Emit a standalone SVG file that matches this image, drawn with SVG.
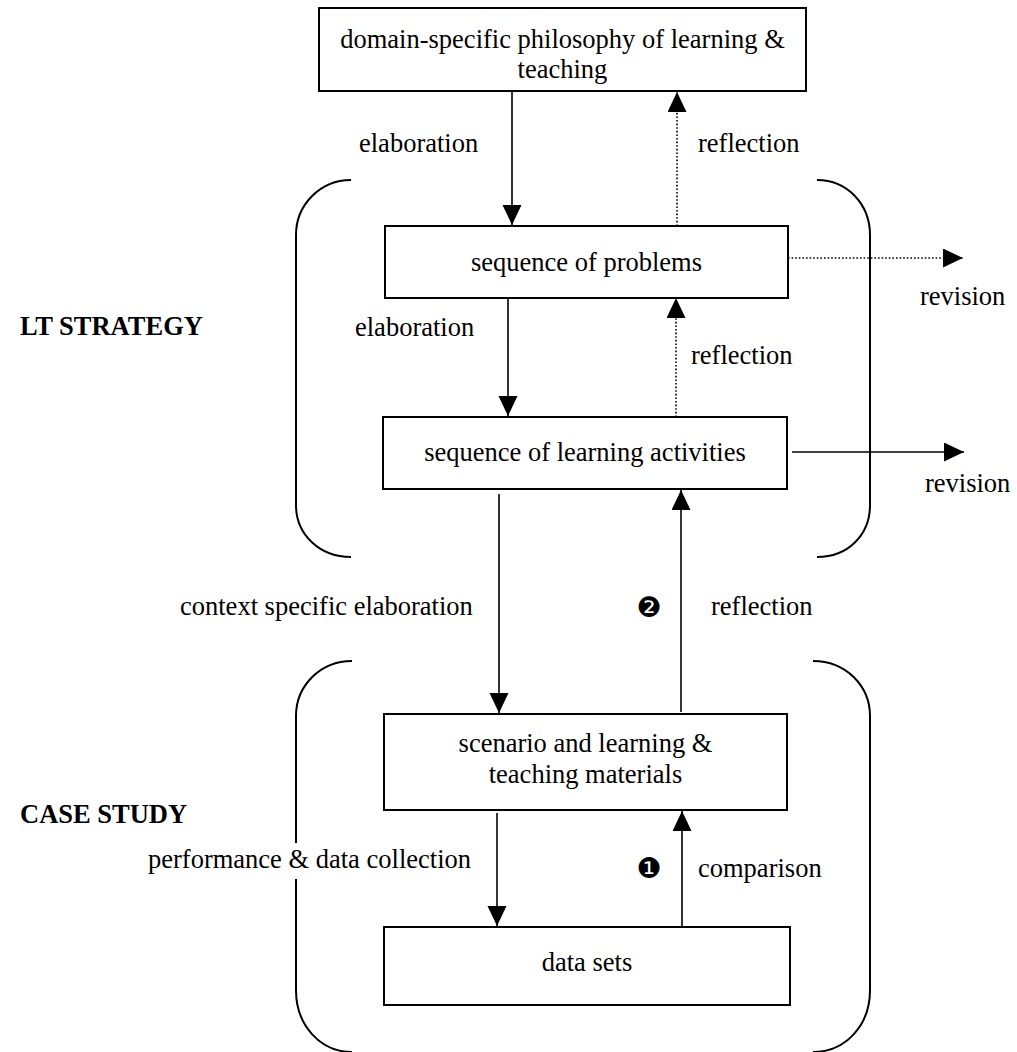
<svg xmlns="http://www.w3.org/2000/svg" width="1017" height="1052" viewBox="0 0 1017 1052">
<defs>
<marker id="ah" markerUnits="userSpaceOnUse" markerWidth="20" markerHeight="20" refX="20" refY="9.5" orient="auto">
<path d="M0,0 L20,9.5 L0,19 z" fill="#000"/>
</marker>
</defs>
<style>
.box{fill:#fff;stroke:#000;stroke-width:2}
.t{font-family:"Liberation Serif","Times New Roman",serif;font-size:26.5px;fill:#000}
.c{text-anchor:middle}
.b{font-weight:bold}
.ln{fill:none;stroke:#000;stroke-width:1.6}
.dot{fill:none;stroke:#000;stroke-width:1.6;stroke-dasharray:1.6 2}
.br{fill:none;stroke:#000;stroke-width:2}
.num{font-family:"DejaVu Sans",sans-serif;font-size:28px;fill:#000;text-anchor:middle}
</style>
<rect width="1017" height="1052" fill="#fff"/>
<g id="brackets">
<path class="br" d="M351,180 C320,180 296,205 296,235 L296,505 C296,535 320,557 351,557"/>
<path class="br" d="M817,180 C848,180 870,205 870,235 L870,505 C870,535 848,557 817,557"/>
<path class="br" d="M352,661 C320,661 296,686 296,716 L296,990 C296,1025 320,1052 352,1052"/>
<path class="br" d="M813,661 C846,661 870,686 870,716 L870,990 C870,1025 846,1052 813,1052"/>
</g>
<g id="connectors">
<line class="ln" x1="512" y1="91" x2="512" y2="225" marker-end="url(#ah)"/>
<line class="dot" x1="677" y1="226" x2="677" y2="92" marker-end="url(#ah)"/>
<line class="dot" x1="788" y1="258" x2="963" y2="258" marker-end="url(#ah)"/>
<line class="ln" x1="508" y1="298" x2="508" y2="416" marker-end="url(#ah)"/>
<line class="dot" x1="676" y1="417" x2="676" y2="298" marker-end="url(#ah)"/>
<line class="ln" x1="792" y1="452" x2="964" y2="452" marker-end="url(#ah)"/>
<line class="ln" x1="499" y1="494" x2="499" y2="713" marker-end="url(#ah)"/>
<line class="ln" x1="681" y1="712" x2="681" y2="490" marker-end="url(#ah)"/>
<line class="ln" x1="497" y1="813" x2="497" y2="926" marker-end="url(#ah)"/>
<line class="ln" x1="682" y1="927" x2="682" y2="811" marker-end="url(#ah)"/>
</g>
<g id="node-philosophy">
<rect class="box" x="319" y="8" width="487" height="83"/>
<text class="t c" x="562.5" y="48">domain-specific philosophy of learning &amp;</text>
<text class="t c" x="562.5" y="78">teaching</text>
</g>
<g id="node-problems">
<rect class="box" x="385" y="226" width="403" height="72"/>
<text class="t c" x="586.5" y="271">sequence of problems</text>
</g>
<g id="node-activities">
<rect class="box" x="383" y="417" width="404" height="72"/>
<text class="t c" x="585" y="461">sequence of learning activities</text>
</g>
<g id="node-scenario">
<rect class="box" x="384" y="714" width="403" height="96"/>
<text class="t c" x="585.5" y="752">scenario and learning  &amp;</text>
<text class="t c" x="585.5" y="783">teaching materials</text>
</g>
<g id="node-datasets">
<rect class="box" x="384" y="927" width="406" height="78"/>
<text class="t c" x="587" y="971">data sets</text>
</g>
<g id="labels">
<text class="t" x="359" y="152">elaboration</text>
<text class="t" x="698" y="152">reflection</text>
<text class="t" x="920" y="305">revision</text>
<text class="t b" x="20" y="335">LT STRATEGY</text>
<text class="t" x="355" y="336">elaboration</text>
<text class="t" x="691" y="364">reflection</text>
<text class="t" x="925" y="492">revision</text>
<text class="t" x="180" y="615">context specific elaboration</text>
<text class="num" x="649" y="617">❷</text>
<text class="t" x="711" y="615">reflection</text>
<text class="t b" x="20" y="823">CASE STUDY</text>
<rect x="145" y="843" width="330" height="36" fill="#fff"/>
<text class="t" x="148" y="868">performance &amp; data collection</text>
<text class="num" x="649" y="878">❶</text>
<text class="t" x="698" y="877">comparison</text>
</g>
</svg>
